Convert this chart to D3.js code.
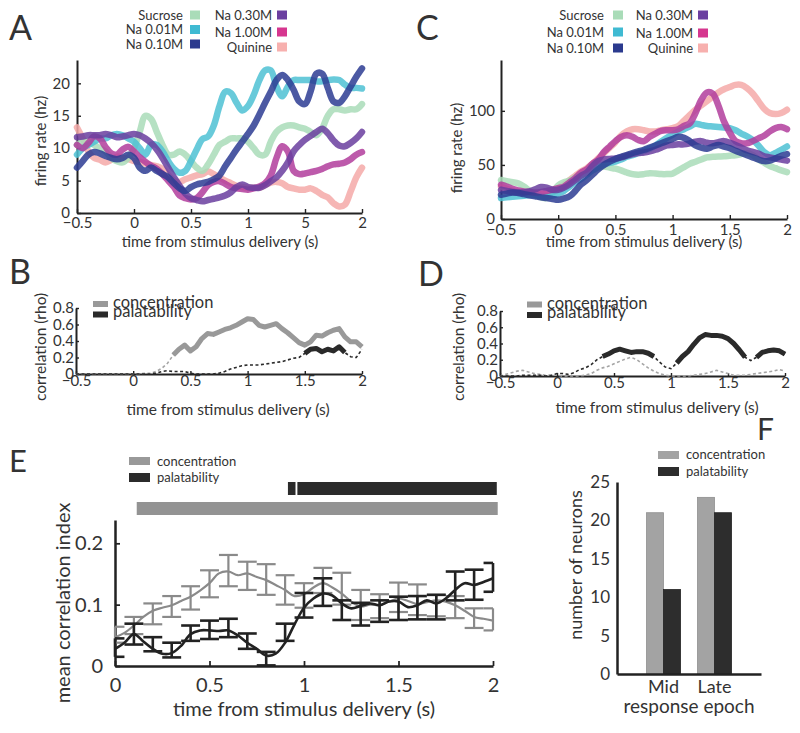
<!DOCTYPE html>
<html><head><meta charset="utf-8">
<script src="https://cdn.jsdelivr.net/npm/d3@7/dist/d3.min.js"></script>
<style>html,body{margin:0;padding:0;background:#fff;}</style>
</head><body>
<svg id="fig" width="800" height="733" xmlns="http://www.w3.org/2000/svg"></svg>
<script>
// ---------------- data ----------------
const times = d3.range(51).map(i => Math.round((-0.5 + i * 0.05) * 100) / 100);
const tastes = ["Sucrose", "Na 0.01M", "Na 0.10M", "Na 0.30M", "Na 1.00M", "Quinine"];
const tasteLineColors = ["#a9dcb8", "#4dc1d3", "#2d3c93", "#6a3e9f", "#b13d9c", "#f5a9a8"];
const tasteLegendColors = ["#a9dcb8", "#3fbad2", "#2b3a8e", "#6b3fa0", "#d6368f", "#f7b0ae"];
const rateTickLabelsA = ["\u22120.5", "0", "0.5", "1", "5", "2"];
const rateTickLabelsC = ["\u22120.5", "0", "0.5", "1", "1.5", "2"];
const timeTicks = [-0.5, 0, 0.5, 1, 1.5, 2];

// Panel A firing rates (Hz)
const aSucrose = [10.5,11,11,10.5,10,9.5,8.5,8,7.8,8.5,10,12.5,15,14.5,12.5,10.5,9,9,9.5,9,8,7,6.5,7.5,9,10.5,11,11.5,11.5,11.5,11,10,9,9,11,12.5,13.2,13.5,13.5,13.2,13,12.5,12,13,15,16,16,15.8,16,16,16.8];
const aNa001 = [9,10,10.5,11,11.5,11.5,12,12.2,12,11.5,11,10,9,10.5,10.5,9.5,8,6.8,6.2,6.5,8,9.8,11.4,11.8,13.5,16.5,18.7,18.5,17,15.8,16.5,18.2,20.5,22,22,19.5,18,19.5,20.5,20.5,20.5,20.5,20.3,20.3,20.5,20.6,20.5,19.8,19.3,19.3,19.2];
const aNa010 = [7,8,9,9.4,9.2,8.8,8.5,8.3,8.5,9,8.5,7,6.5,7,6.5,6,5.5,4.6,3.8,3.4,4,4.4,4.6,4.8,5.2,5.8,7.2,8.5,9.8,11,12.2,13.5,15.2,17,18.7,20.5,21.3,20.5,19,17.2,16.8,18.8,21.5,21.5,19.3,17.2,17,18,19.5,21,22.3];
const aNa030 = [11.7,11.8,12,12,12,12.2,12,11.7,11.8,12,12.2,12,11.5,10.8,9.8,8.5,7,5.5,4.2,3,2.3,2,1.8,2,2.2,2.4,2.7,3.2,4,4.4,4,3.9,3.9,4.3,4.9,5.5,6.5,7.8,9.5,10.5,11.3,11.9,12.5,13,12.3,11.2,10.4,10.3,10.8,11.5,12.5];
const aNa100 = [10.5,10,10.8,11.8,11.5,10.2,9.2,9,9.8,10.2,9.5,8.6,7.9,7.3,6.8,6,5,4,2.7,2.3,2.1,2.3,3.2,4.3,4.8,4.9,4.5,4,3.8,3.7,3.6,3.8,4.1,4.6,5.8,8.5,10.3,9.5,6.5,6,6.1,6.3,6.5,6.8,7.2,7.5,7.6,7.8,8.3,9,9.4];
const aQuinine = [13.2,11.5,9.5,8.5,8.2,7.8,8.2,8.7,8.5,8.3,8,7.9,7.6,7.4,7.2,6.8,5.8,5,4.8,5.2,5.5,5.8,6,6.4,6,5.5,5,4.6,4.2,4,3.9,3.9,3.9,4.3,4.7,4.8,4.6,4,3.8,3.6,3.6,3.8,3.4,2.8,2.4,1.5,1,1.3,3.3,5.5,7];

// Panel C firing rates (Hz)
const cSucrose = [36,35,34,33,30,26,22.4,20,19.4,24,31,34,35.5,38.5,41,42.5,45,47.5,48.5,47.5,46.5,45,43,41.5,41,41.5,42.4,42,41.5,41.5,42,45,48,51,53,55,57,57.5,57.8,58,58.5,59,60,61,59,55,52,49,47,45,43.4];
const cNa001 = [19.4,20,20.5,21,21.5,22,22,21,20.5,21.5,23.5,26,30,34,37,41,45,48,50.5,52,53,55,57.5,59,61,63,65,68,71.6,75,78,81,83,85.5,88,87,86,85.5,85,84.5,84,82,79,76.5,73,68,62,59,61,64,67];
const cNa010 = [22.4,23.5,24.5,24,23,22,21,20,19.4,18.5,17.8,19,21,26,32,36,41,46,50,53,55.5,57.5,59,61,62.5,64,66,68,70,72,74,76,75,72,68,66,65,67,68.5,67,65.5,63,61,59,57,55,53.5,54,56,58.5,60];
const cNa030 = [27,26,25,24.5,24.5,25.5,27.5,29.5,29,27,27,29,32,36,40,43,49,53.5,55,55.5,56,57,58.5,60,61,61.5,62.5,64,66,68,68.5,69,69,70,71.5,72,70.5,70,71,72,70.5,68.5,66,63.5,62,60.5,58,57,56,55,54];
const cNa100 = [31.7,30,28,26.5,25.5,25,24.5,25,26,27,28.5,30,34,38,43,46,51,55,62,67,72,76,77.5,76,73,72,76,79,81.5,82,82,83,86,88.5,98,110,117,116,105,90,80,72,70,70,72,74.5,77,81,84,85,83];
const cQuinine = [30,28,26,25,24.5,24,23.5,23,23,25,28.5,32,36,40,44,47,51,56,61,66,71,77,81,83,83,82,81,81,82,83,84,86,91,96,101,105,109,113,117,120,122,124,124,121,116,109,102,98,97,98,101];

// Panel B correlations
const bConc = [0,0,0,0,0,0,0,0,0,0,0,0,0.01,0.01,0.03,0.07,0.13,0.23,0.3,0.35,0.28,0.33,0.43,0.49,0.48,0.51,0.54,0.56,0.59,0.63,0.67,0.66,0.59,0.57,0.59,0.61,0.55,0.5,0.44,0.38,0.35,0.39,0.47,0.46,0.5,0.53,0.55,0.45,0.39,0.39,0.33];
const bPal = [0,0,0,0,0,0,0,0,0,0,0,0,0,0,0.01,0.03,0.04,0.03,0.03,0.03,0.01,0,0,0,0,0.01,0.03,0.06,0.08,0.1,0.11,0.11,0.11,0.12,0.13,0.14,0.15,0.17,0.19,0.2,0.25,0.3,0.31,0.27,0.3,0.28,0.33,0.26,0.21,0.2,0.3];
const bConcSig = [[0.35, 2.0]];
const bPalSig = [[1.5, 1.85]];

// Panel D correlations
const dConc = [0,0.02,0.04,0.06,0.07,0.05,0.03,0.02,0.01,0.01,0.01,0,0,0,0,0.01,0.03,0.07,0.1,0.12,0.15,0.18,0.21,0.23,0.2,0.15,0.1,0.06,0.03,0.01,0,0,0,0,0.01,0.02,0.03,0.05,0.07,0.05,0.03,0.01,0.01,0.01,0.02,0.03,0.04,0.05,0.06,0.08,0.06];
const dPal = [0,0,0,0,0.01,0.01,0.01,0.01,0,0.01,0.03,0.03,0.02,0.04,0.08,0.1,0.14,0.2,0.24,0.27,0.31,0.33,0.31,0.29,0.3,0.3,0.28,0.24,0.17,0.11,0.09,0.16,0.24,0.3,0.39,0.47,0.51,0.5,0.5,0.49,0.46,0.4,0.32,0.23,0.19,0.23,0.29,0.31,0.32,0.31,0.27];
const dConcSig = [];
const dPalSig = [[0.4, 0.85], [1.05, 1.65], [1.75, 2.0]];
const corrTicks = [0, 0.2, 0.4, 0.6, 0.8];
const corrTickLabels = ["0", "0.2", "0.4", "0.6", "0.8"];

// Panel E mean correlation index
const eTimes = d3.range(41).map(i => Math.round(i * 5) / 100);
const eConc = [0.047,0.054,0.066,0.08,0.09,0.095,0.099,0.106,0.113,0.123,0.135,0.151,0.154,0.148,0.151,0.145,0.14,0.132,0.124,0.114,0.117,0.128,0.135,0.128,0.118,0.105,0.097,0.1,0.099,0.105,0.11,0.106,0.101,0.104,0.107,0.105,0.099,0.09,0.08,0.077,0.074];
const ePal = [0.028,0.038,0.052,0.04,0.028,0.02,0.021,0.033,0.052,0.058,0.058,0.057,0.058,0.05,0.038,0.028,0.017,0.02,0.038,0.068,0.095,0.11,0.118,0.115,0.102,0.094,0.098,0.102,0.099,0.105,0.105,0.096,0.099,0.107,0.102,0.11,0.124,0.135,0.132,0.137,0.143];
const eBarTimes = d3.range(21).map(i => i / 10);
const eConcHi = [0.064,0.08,0.102,0.114,0.13,0.156,0.181,0.17,0.166,0.148,0.135,0.16,0.152,0.124,0.117,0.136,0.133,0.116,0.114,0.094,0.094];
const eConcLo = [0.038,0.052,0.068,0.08,0.092,0.112,0.13,0.124,0.116,0.1,0.095,0.119,0.1,0.075,0.078,0.088,0.083,0.081,0.078,0.062,0.058];
const ePalHi = [0.045,0.069,0.047,0.038,0.066,0.074,0.077,0.053,0.023,0.069,0.119,0.143,0.107,0.103,0.107,0.113,0.114,0.116,0.154,0.157,0.168];
const ePalLo = [0.015,0.035,0.024,0.014,0.041,0.044,0.047,0.028,0.001,0.041,0.079,0.098,0.075,0.066,0.072,0.075,0.076,0.076,0.107,0.108,0.121];
const eConcSig = [[0.115, 2.025]];
const ePalSig = [[0.915, 0.955], [0.965, 2.02]];
const eXTicks = [0, 0.5, 1, 1.5, 2];
const eXTickLabels = ["0", "0.5", "1", "1.5", "2"];
const eYTicks = [0, 0.1, 0.2];
const eYTickLabels = ["0", "0.1", "0.2"];

// Panel F counts
const fEpochs = ["Mid", "Late"];
const fConc = [21, 23];
const fPal = [11, 21];
const fYTicks = [0, 5, 10, 15, 20, 25];

// ---------------- drawing ----------------
const FONT = "Lato, 'Noto Sans', sans-serif";
const TXT = "#333";
const CONC = "#999999", PAL = "#2a2a2a";
const svg = d3.select("#fig").attr("font-family", FONT);

function text(x, y, s, size, anchor = "start", rot = 0) {
  const t = svg.append("text").attr("x", x).attr("y", y).text(s)
    .attr("font-size", size).attr("fill", TXT).attr("text-anchor", anchor);
  if (rot) t.attr("transform", `rotate(${rot},${x},${y})`);
  return t;
}
function styleAxis(g, w, fs) {
  g.attr("font-family", FONT).attr("font-size", fs);
  g.select(".domain").attr("stroke", "#222").attr("stroke-width", w);
  g.selectAll(".tick line").attr("stroke", "#222").attr("stroke-width", Math.max(1, w * 0.7));
  g.selectAll(".tick text").attr("fill", TXT);
}
function inSig(t, sig) { return sig.some(([a, b]) => t >= a - 1e-9 && t <= b + 1e-9); }

// ---- rate panels (A, C) ----
function ratePanel(cfg) {
  const x = d3.scaleLinear().domain([-0.5, 2]).range(cfg.xr);
  const y = d3.scaleLinear().domain([0, cfg.ymax]).range(cfg.yr);
  const line = d3.line().x((d, i) => x(times[i])).y(d => y(d)).curve(d3.curveCatmullRom.alpha(0.5));
  const gx = svg.append("g").attr("transform", `translate(0,${cfg.yr[0]})`)
    .call(d3.axisBottom(x).tickValues(timeTicks).tickFormat((d, i) => cfg.xLabels[i]).tickSize(-4).tickSizeOuter(0).tickPadding(cfg.xPad));
  styleAxis(gx, 2, 15);
  const gy = svg.append("g").attr("transform", `translate(${cfg.xr[0]},0)`)
    .call(d3.axisLeft(y).tickValues(cfg.yTicks).tickFormat(d3.format("d")).tickSize(-4).tickSizeOuter(0).tickPadding(cfg.yPad));
  styleAxis(gy, 2, 15);
  const order = [5, 0, 1, 4, 3, 2];
  order.forEach(k => {
    svg.append("path").attr("d", line(cfg.series[k])).attr("fill", "none")
      .attr("stroke", tasteLineColors[k]).attr("stroke-width", 6.5).attr("stroke-opacity", 0.85)
      .attr("stroke-linejoin", "round").attr("stroke-linecap", "round");
  });
  // legend
  tastes.forEach((name, k) => {
    const col = k < 3 ? 0 : 1, row = k % 3;
    const tx = cfg.legTextX[col], sx = cfg.legSqX[col], ly = cfg.legRows[col][row];
    text(tx, ly + 4.5, name, 13, "end");
    svg.append("rect").attr("x", sx).attr("y", ly - 4.5).attr("width", 10).attr("height", 9)
      .attr("fill", tasteLegendColors[k]);
  });
  text(cfg.ylab[0], cfg.ylab[1], "firing rate (hz)", 15, "middle", -90).attr("dominant-baseline", "central");
  text(cfg.xlab[0], cfg.xlab[1], "time from stimulus delivery (s)", 15, "middle");
  text(cfg.letter[0], cfg.letter[1], cfg.letter[2], 34);
}

ratePanel({
  xr: [77, 362], yr: [213, 60], ymax: 23.6, yTicks: [0, 5, 10, 15, 20], xLabels: rateTickLabelsA,
  xPad: 4, yPad: 7,
  series: [aSucrose, aNa001, aNa010, aNa030, aNa100, aQuinine],
  legTextX: [183, 272], legSqX: [190, 277], legRows: [[15, 29.5, 44], [15, 32, 47]],
  ylab: [40, 141], xlab: [220, 247], letter: [9, 40, "A"]
});
ratePanel({
  xr: [501, 787], yr: [219, 60], ymax: 147, yTicks: [0, 50, 100], xLabels: rateTickLabelsC,
  xPad: 5, yPad: 6,
  series: [cSucrose, cNa001, cNa010, cNa030, cNa100, cQuinine],
  legTextX: [604, 693], legSqX: [613, 698], legRows: [[15, 32, 48], [15, 33, 48]],
  ylab: [456, 148], xlab: [644, 247], letter: [416, 40, "C"]
});

// ---- correlation panels (B, D) ----
function corrPanel(cfg) {
  const x = d3.scaleLinear().domain([-0.5, 2]).range(cfg.xr);
  const y = d3.scaleLinear().domain([0, 0.8]).range(cfg.yr);
  const gx = svg.append("g").attr("transform", `translate(0,${cfg.yr[0]})`)
    .call(d3.axisBottom(x).tickValues(timeTicks).tickFormat((d, i) => rateTickLabelsC[i]).tickSize(-3).tickSizeOuter(0).tickPadding(1));
  styleAxis(gx, 2, 15);
  const gy = svg.append("g").attr("transform", `translate(${cfg.xr[0]},0)`)
    .call(d3.axisLeft(y).tickValues(corrTicks).tickFormat((d, i) => corrTickLabels[i]).tickSize(-3).tickSizeOuter(0).tickPadding(2));
  styleAxis(gy, 2, 15);
  const series = [
    { v: cfg.conc, sig: cfg.concSig, c: CONC, dc: "#a5a5a5" },
    { v: cfg.pal, sig: cfg.palSig, c: PAL, dc: "#2a2a2a" }
  ];
  series.forEach(s => {
    const base = d3.line().x((d, i) => x(times[i])).y(d => y(d));
    svg.append("path").attr("d", base(s.v)).attr("fill", "none").attr("stroke", s.dc)
      .attr("stroke-width", 1.6).attr("stroke-dasharray", "3,2.5");
  });
  series.forEach(s => {
    const thick = d3.line().defined((d, i) => inSig(times[i], s.sig)).x((d, i) => x(times[i])).y(d => y(d));
    svg.append("path").attr("d", thick(s.v)).attr("fill", "none").attr("stroke", s.c)
      .attr("stroke-width", 5).attr("stroke-linejoin", "round");
  });
  // legend
  svg.append("rect").attr("x", cfg.leg[0]).attr("y", cfg.leg[1]).attr("width", 15).attr("height", 6).attr("fill", CONC);
  svg.append("rect").attr("x", cfg.leg[0]).attr("y", cfg.leg[1] + 10.5).attr("width", 15).attr("height", 6).attr("fill", PAL);
  text(cfg.leg[0] + 20, cfg.leg[1] + 7, "concentration", 16.5);
  text(cfg.leg[0] + 20, cfg.leg[1] + 16, "palatability", 16.5);
  text(cfg.ylab[0], cfg.ylab[1], "correlation (rho)", 15.5, "middle", -90).attr("dominant-baseline", "central");
  text(cfg.xlab[0], cfg.xlab[1], "time from stimulus delivery (s)", 15.5, "middle");
  text(cfg.letter[0], cfg.letter[1], cfg.letter[2], 34);
}
corrPanel({ xr: [76, 362], yr: [374, 308], conc: bConc, pal: bPal, concSig: bConcSig, palSig: bPalSig,
  leg: [93, 301], ylab: [40, 347], xlab: [228, 415], letter: [9, 284, "B"] });
corrPanel({ xr: [500, 785], yr: [376, 311], conc: dConc, pal: dPal, concSig: dConcSig, palSig: dPalSig,
  leg: [527, 301.5], ylab: [458, 347], xlab: [657, 413], letter: [418, 286, "D"] });

// ---- panel E ----
(function () {
  const x = d3.scaleLinear().domain([0, 2]).range([115, 493]);
  const y = d3.scaleLinear().domain([0, 0.238]).range([666, 520]);
  const gx = svg.append("g").attr("transform", "translate(0,666)")
    .call(d3.axisBottom(x).tickValues(eXTicks).tickFormat((d, i) => eXTickLabels[i]).tickSize(-5).tickSizeOuter(0).tickPadding(12));
  styleAxis(gx, 2.5, 20);
  const gy = svg.append("g").attr("transform", "translate(115,0)")
    .call(d3.axisLeft(y).tickValues(eYTicks).tickFormat((d, i) => eYTickLabels[i]).tickSize(-5).tickSizeOuter(0).tickPadding(12));
  styleAxis(gy, 2.5, 20);

  const line = d3.line().x((d, i) => x(eTimes[i])).y(d => y(d)).curve(d3.curveCatmullRom.alpha(0.5));
  const groups = [
    { v: eConc, hi: eConcHi, lo: eConcLo, c: "#8a8a8a", w: 2.2 },
    { v: ePal, hi: ePalHi, lo: ePalLo, c: "#222222", w: 2.6 }
  ];
  groups.forEach(g => {
    svg.append("path").attr("d", line(g.v)).attr("fill", "none").attr("stroke", g.c).attr("stroke-width", g.w);
    const eb = svg.append("g").attr("stroke", g.c).attr("stroke-width", g.w).attr("fill", "none");
    eBarTimes.forEach((t, i) => {
      const a = Math.max(0, t - 0.05), b = Math.min(2, t + 0.05);
      eb.append("line").attr("x1", x(t)).attr("x2", x(t)).attr("y1", y(g.hi[i])).attr("y2", y(g.lo[i]));
      eb.append("line").attr("x1", x(a)).attr("x2", x(b)).attr("y1", y(g.hi[i])).attr("y2", y(g.hi[i]));
      eb.append("line").attr("x1", x(a)).attr("x2", x(b)).attr("y1", y(g.lo[i])).attr("y2", y(g.lo[i]));
    });
  });
  // significance bars
  ePalSig.forEach(([a, b]) => svg.append("rect").attr("x", x(a)).attr("y", 482).attr("width", x(b) - x(a)).attr("height", 13)
    .attr("fill", "#2b2b2b"));
  eConcSig.forEach(([a, b]) => svg.append("rect").attr("x", x(a)).attr("y", 502).attr("width", x(b) - x(a)).attr("height", 13)
    .attr("fill", "#939393"));
  // legend
  svg.append("rect").attr("x", 129).attr("y", 457).attr("width", 21).attr("height", 8).attr("fill", "#999");
  svg.append("rect").attr("x", 129).attr("y", 473).attr("width", 21).attr("height", 9).attr("fill", "#2b2b2b");
  text(157, 465.5, "concentration", 13);
  text(157, 481.5, "palatability", 13);
  text(62, 603, "mean correlation index", 20, "middle", -90).attr("dominant-baseline", "central");
  text(304, 716, "time from stimulus delivery (s)", 20, "middle");
  text(9, 472, "E", 31);
})();

// ---- panel F ----
(function () {
  const x = d3.scaleBand().domain(fEpochs).range([617, 761]).paddingInner(0.333).paddingOuter(0.578);
  const sub = d3.scaleBand().domain(["conc", "pal"]).range([0, x.bandwidth()]);
  const y = d3.scaleLinear().domain([0, 25]).range([674, 482]);
  fEpochs.forEach((e, i) => {
    svg.append("rect").attr("x", x(e) + sub("conc")).attr("y", y(fConc[i])).attr("width", sub.bandwidth())
      .attr("height", y(0) - y(fConc[i])).attr("fill", "#a3a3a3").attr("stroke", "#8f8f8f").attr("stroke-width", 0.8);
    svg.append("rect").attr("x", x(e) + sub("pal")).attr("y", y(fPal[i])).attr("width", sub.bandwidth())
      .attr("height", y(0) - y(fPal[i])).attr("fill", "#2d2d2d").attr("stroke", "#222").attr("stroke-width", 0.8);
  });
  const gx = svg.append("g").attr("transform", "translate(0,674)")
    .call(d3.axisBottom(x).tickSize(0).tickSizeOuter(0).tickPadding(6));
  styleAxis(gx, 2.5, 18);
  const gy = svg.append("g").attr("transform", "translate(617,0)")
    .call(d3.axisLeft(y).tickValues(fYTicks).tickFormat(d3.format("d")).tickSize(0).tickSizeOuter(0).tickPadding(7));
  styleAxis(gy, 2.5, 17);
  svg.append("rect").attr("x", 658).attr("y", 451).attr("width", 21).attr("height", 8).attr("fill", "#a3a3a3");
  svg.append("rect").attr("x", 658).attr("y", 467).attr("width", 21).attr("height", 9).attr("fill", "#2d2d2d");
  text(686, 459, "concentration", 13);
  text(686, 476, "palatability", 13);
  text(575, 565, "number of neurons", 18, "middle", -90).attr("dominant-baseline", "central");
  text(689, 713, "response epoch", 19, "middle");
  text(757, 440, "F", 30);
})();
</script>
</body></html>
